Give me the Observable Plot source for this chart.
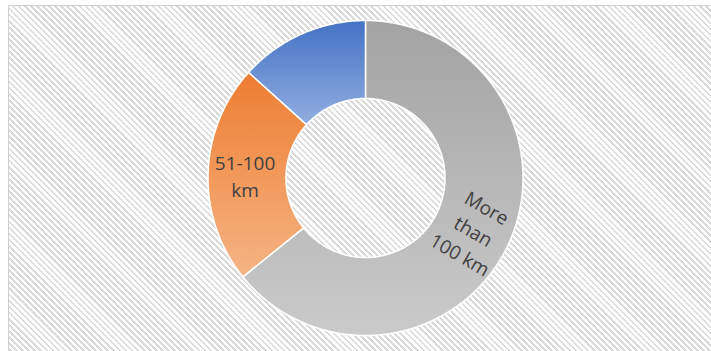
<!DOCTYPE html>
<html><head><meta charset="utf-8">
<script src="https://cdn.jsdelivr.net/npm/d3@7"></script>
<script src="https://cdn.jsdelivr.net/npm/@observablehq/plot@0.6"></script>
<style>
html,body{margin:0;padding:0;background:#fff;width:711px;height:351px;overflow:hidden}
#frame{position:absolute;left:8px;top:5px;width:720px;height:360px;border-left:1px solid #d0d0d0;border-top:1px solid #d0d0d0;background:repeating-linear-gradient(45deg,#ffffff 0 2.4px,#dadada 2.4px 4.3px)}
#chart{position:absolute;left:0;top:0}
</style></head><body>
<div id="frame"></div><div id="chart"></div>
<script>
// Data (clockwise from 12 o'clock)
const categories = ["More than 100 km", "51-100 km", "Up to 50 km"];
const shares = [64.2, 22.5, 13.3];
const labels = ["More\nthan\n100 km", "51-100\nkm", ""];
const labelRotate = [30, 0, 0];

// Styles
const gradTop = ["#a3a3a3", "#ed7d31", "#4472c4"];
const gradBottom = ["#cacaca", "#f5b485", "#92aee0"];
const innerRatio = 0.505;
const labelRadius = 0.765;

const arcs = d3.pie().sort(null).value(d => d)(shares);

function ringPoints(a0, a1, r, n) {
  const pts = [];
  for (let k = 0; k <= n; k++) {
    const a = a0 + (a1 - a0) * k / n;
    pts.push([r * Math.sin(a), -r * Math.cos(a)]);
  }
  return pts;
}

const features = arcs.map((a, i) => {
  const n = Math.max(8, Math.ceil((a.endAngle - a.startAngle) / (Math.PI / 360)));
  const outer = ringPoints(a.startAngle, a.endAngle, 1, n);
  const inner = ringPoints(a.endAngle, a.startAngle, innerRatio, n);
  const ring = outer.concat(inner);
  ring.push(ring[0]);
  return {type: "Feature", properties: {i, category: categories[i]}, geometry: {type: "Polygon", coordinates: [ring]}};
});

const labelData = arcs.map((a, i) => {
  const m = (a.startAngle + a.endAngle) / 2;
  return {label: labels[i], x: labelRadius * Math.sin(m), y: -labelRadius * Math.cos(m), rot: labelRotate[i]};
}).filter(d => d.label);

const domain = {type: "MultiPoint", coordinates: [[-1, -1], [1, 1]]};

const svg = Plot.plot({
  width: 711,
  height: 351,
  marginTop: 20,
  marginBottom: 16,
  marginLeft: 19,
  marginRight: 0,
  style: {background: "transparent", overflow: "visible"},
  projection: {type: "identity", domain},
  color: {type: "identity"},
  marks: [
    Plot.geo(features, {fill: d => `url(#slice-grad-${d.properties.i})`, stroke: "#ffffff", strokeWidth: 1.5}),
    Plot.text(labelData, {x: "x", y: "y", text: "label", rotate: "rot", fontSize: 19, lineHeight: 1.42, fill: "#404040", fontFamily: "Open Sans, sans-serif"})
  ]
});

const defs = d3.select(svg).insert("defs", ":first-child");
gradTop.forEach((c, i) => {
  const g = defs.append("linearGradient").attr("id", `slice-grad-${i}`).attr("x1", 0).attr("y1", 0).attr("x2", 0).attr("y2", 1);
  g.append("stop").attr("offset", "0%").attr("stop-color", c);
  g.append("stop").attr("offset", "100%").attr("stop-color", gradBottom[i]);
});

document.getElementById("chart").appendChild(svg);
</script>
</body></html>
